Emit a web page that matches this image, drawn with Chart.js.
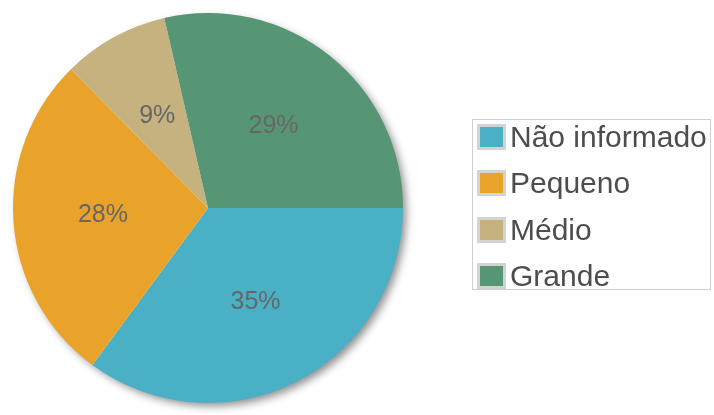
<!DOCTYPE html>
<html lang="pt-BR">
<head>
<meta charset="UTF-8">
<title>Porte</title>
<script src="https://cdn.jsdelivr.net/npm/chart.js@4.4.1/dist/chart.umd.min.js"></script>
<style>
    body { margin: 0; background: #fff; }
    #wrap { position: relative; width: 714px; height: 415px; }
    #legenda {
        position: absolute; left: 472px; top: 119px;
        width: 239px; height: 171px;
        border: 1px solid #cfcfcf; box-sizing: border-box;
        padding-top: 4px;
        font-family: "Liberation Sans", Arial, sans-serif;
        font-size: 30px; color: #4d4d4d;
    }
    .item { display: flex; align-items: center; height: 26px; margin-bottom: 20.3px; }
    .cx { width: 23px; height: 20px; border: 3px solid #d3d3d3; margin-left: 4px; margin-right: 4px; }
</style>
</head>
<body>
<div id="wrap">
    <canvas id="grafico" width="714" height="415"></canvas>
    <div id="legenda"></div>
</div>
<script>
// dados
const categorias = ['Não informado', 'Pequeno', 'Médio', 'Grande'];
const valores = [35.1, 27.5, 8.8, 28.6];
const cores = ['#4ab0c5', '#e9a32a', '#c5b27e', '#579674'];

// sombra atras da pizza
const sombraPizza = {
    id: 'sombraPizza',
    beforeDatasetsDraw(chart) {
        const arc = chart.getDatasetMeta(0).data[0];
        if (!arc) return;
        const ctx = chart.ctx;
        ctx.save();
        ctx.shadowColor = 'rgba(0,0,0,0.45)';
        ctx.shadowBlur = 8;
        ctx.shadowOffsetX = 4;
        ctx.shadowOffsetY = 4;
        ctx.fillStyle = '#fff';
        ctx.beginPath();
        ctx.arc(arc.x, arc.y, arc.outerRadius - 1, 0, Math.PI * 2);
        ctx.fill();
        ctx.restore();
    }
};

// percentuais dentro das fatias
const rotulos = {
    id: 'rotulos',
    afterDatasetsDraw(chart) {
        const ctx = chart.ctx;
        const total = valores.reduce((a, b) => a + b, 0);
        ctx.save();
        ctx.font = '25px "Liberation Sans", Arial, sans-serif';
        ctx.fillStyle = '#666';
        ctx.textAlign = 'center';
        ctx.textBaseline = 'middle';
        chart.getDatasetMeta(0).data.forEach((arc, i) => {
            const meio = (arc.startAngle + arc.endAngle) / 2;
            const r = arc.outerRadius * 0.54;
            const pct = Math.round(valores[i] / total * 100) + '%';
            ctx.fillText(pct, arc.x + Math.cos(meio) * r, arc.y + Math.sin(meio) * r);
        });
        ctx.restore();
    }
};

const chart = new Chart(document.getElementById('grafico'), {
    type: 'pie',
    data: {
        labels: categorias,
        datasets: [{
            data: valores,
            backgroundColor: cores,
            borderWidth: 0
        }]
    },
    options: {
        responsive: false,
        animation: false,
        rotation: 90,
        layout: { padding: { left: 13, right: 311, top: 13, bottom: 12 } },
        plugins: {
            legend: { display: false },
            tooltip: { enabled: false }
        }
    },
    plugins: [sombraPizza, rotulos]
});

// legenda em HTML
const legenda = document.getElementById('legenda');
categorias.forEach((nome, i) => {
    const linha = document.createElement('div');
    linha.className = 'item';
    linha.innerHTML = `<span class="cx" style="background:${cores[i]}"></span><span>${nome}</span>`;
    legenda.appendChild(linha);
});
</script>
</body>
</html>
